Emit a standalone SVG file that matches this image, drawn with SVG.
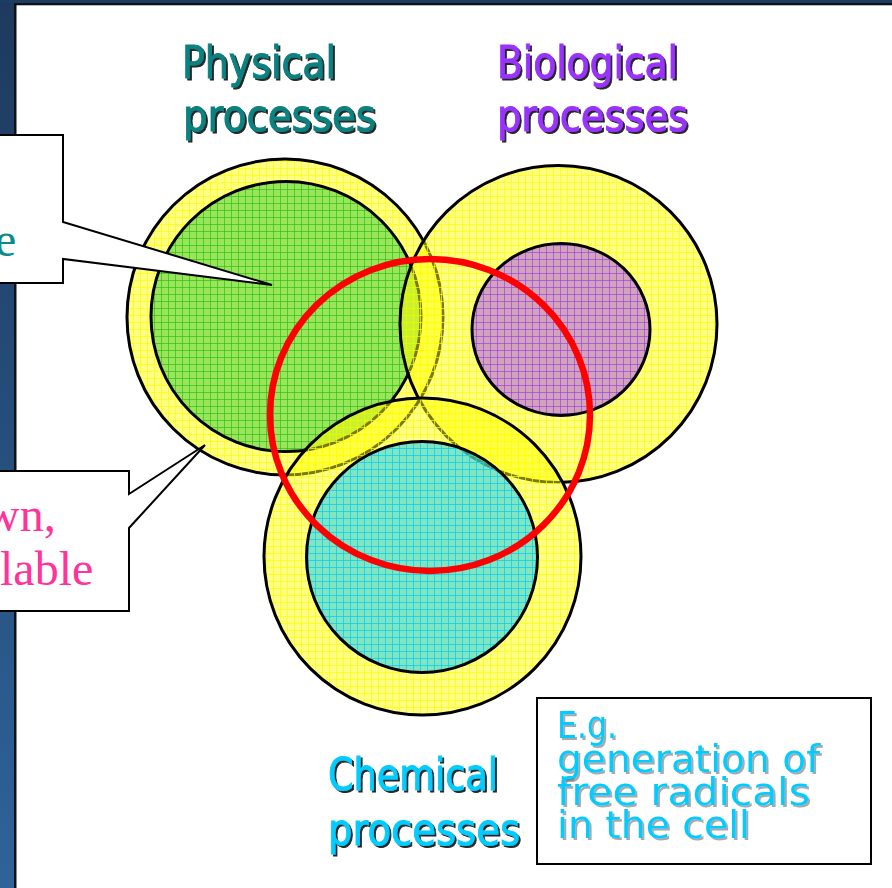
<svg xmlns="http://www.w3.org/2000/svg" width="892" height="888" viewBox="0 0 892 888">
<style>
.lbl{font-family:"DejaVu Sans","Liberation Sans",sans-serif;font-size:44px;stroke-width:0.9;}
.box{font-family:"DejaVu Sans","Liberation Sans",sans-serif;font-size:37px;fill:#00CCFF;}
.ser{font-family:"Liberation Serif","Times New Roman",serif;font-size:48px;}
.ring{stroke:#000;stroke-width:3;}
.call{fill:#fff;stroke:#000;stroke-width:2;stroke-linejoin:miter;}
</style>
<defs>
<linearGradient id="band" x1="0" y1="0" x2="0" y2="1">
<stop offset="0" stop-color="#1D3A5E"/>
<stop offset="1" stop-color="#2F6399"/>
</linearGradient>
<pattern id="pY" width="7" height="7" patternUnits="userSpaceOnUse">
<rect width="7" height="7" fill="#FFFF00" fill-opacity="0.48"/>
<path d="M0 0.5H7M0.5 0V7" stroke="#FFFF00" stroke-opacity="0.7" stroke-width="1"/>
</pattern>
<pattern id="pG" width="7" height="7" patternUnits="userSpaceOnUse">
<rect width="7" height="7" fill="#33CC33" fill-opacity="0.5"/>
<path d="M0 0.5H7M0.5 0V7" stroke="#22BB22" stroke-opacity="0.6" stroke-width="1"/>
</pattern>
<pattern id="pP" width="7" height="7" patternUnits="userSpaceOnUse">
<rect width="7" height="7" fill="#9933FF" fill-opacity="0.45"/>
<path d="M0 0.5H7M0.5 0V7" stroke="#9933FF" stroke-opacity="0.6" stroke-width="1"/>
</pattern>
<pattern id="pC" width="7" height="7" patternUnits="userSpaceOnUse">
<rect width="7" height="7" fill="#00CCFF" fill-opacity="0.5"/>
<path d="M0 0.5H7M0.5 0V7" stroke="#00CCFF" stroke-opacity="0.7" stroke-width="1"/>
</pattern>
<filter id="sh" x="-5%" y="-10%" width="115%" height="140%">
<feDropShadow dx="2" dy="2" stdDeviation="0.5" flood-color="#000" flood-opacity="0.85"/>
</filter>
<filter id="sh2" x="-5%" y="-10%" width="115%" height="140%">
<feDropShadow dx="2" dy="2" stdDeviation="0.6" flood-color="#707070" flood-opacity="0.6"/>
</filter>
</defs>

<g id="slide-frame">
<rect x="0" y="0" width="892" height="888" fill="#fff"/>
<rect x="0" y="0" width="15" height="888" fill="url(#band)"/>
<rect x="0" y="0" width="892" height="3" fill="#1E3C62"/>
<rect x="14" y="3" width="2.5" height="885" fill="#111"/>
<rect x="14" y="3" width="878" height="2.3" fill="#111"/>
</g>

<g id="node-physical">
<circle cx="285" cy="317" r="158" fill="url(#pY)" class="ring"/>
<circle cx="286" cy="316.5" r="135" fill="url(#pG)" class="ring"/>
<text class="lbl" fill="#088080" stroke="#088080" filter="url(#sh)" x="182" y="78" textLength="154" lengthAdjust="spacingAndGlyphs">Physical</text>
<text class="lbl" fill="#088080" stroke="#088080" filter="url(#sh)" x="183" y="131" textLength="193" lengthAdjust="spacingAndGlyphs">processes</text>
</g>

<g id="node-biological">
<circle cx="558.5" cy="324" r="158.5" fill="url(#pY)" class="ring"/>
<ellipse cx="561" cy="329.5" rx="89" ry="86" fill="url(#pP)" class="ring"/>
<text class="lbl" fill="#9933FF" stroke="#9933FF" filter="url(#sh)" x="497" y="78" textLength="181" lengthAdjust="spacingAndGlyphs">Biological</text>
<text class="lbl" fill="#9933FF" stroke="#9933FF" filter="url(#sh)" x="497" y="131" textLength="191" lengthAdjust="spacingAndGlyphs">processes</text>
</g>

<g id="node-chemical">
<circle cx="422.5" cy="556.5" r="158.5" fill="url(#pY)" class="ring"/>
<circle cx="422" cy="557" r="115.5" fill="url(#pC)" class="ring"/>
<text class="lbl" fill="#00CCFF" stroke="#00CCFF" filter="url(#sh)" x="328" y="790" textLength="170" lengthAdjust="spacingAndGlyphs">Chemical</text>
<text class="lbl" fill="#00CCFF" stroke="#00CCFF" filter="url(#sh)" x="328" y="845" textLength="192" lengthAdjust="spacingAndGlyphs">processes</text>
</g>

<g id="node-overlap">
<ellipse cx="430" cy="415" rx="160" ry="156" fill="none" stroke="#FF0000" stroke-width="6.5"/>
</g>

<g id="node-callout-top">
<polygon class="call" points="-10,135 63,135 63,222 272,285 63,259 63,283 -10,283"/>
<text class="ser" fill="#0E8A8A" x="-5" y="256">e</text>
</g>

<g id="node-callout-bottom">
<polygon class="call" points="-10,471 129,471 129,494 205,445 129,528 129,611 -10,611"/>
<text class="ser" fill="#FF3399" x="-15" y="531">wn,</text>
<text class="ser" fill="#FF3399" x="0" y="585">lable</text>
</g>

<g id="node-example">
<rect x="537" y="698" width="334" height="166" fill="#fff" stroke="#000" stroke-width="2"/>
<text class="box" filter="url(#sh2)" x="557" y="738" textLength="60" lengthAdjust="spacingAndGlyphs">E.g.</text>
<text class="box" filter="url(#sh2)" x="557" y="772" textLength="263" lengthAdjust="spacingAndGlyphs">generation of</text>
<text class="box" filter="url(#sh2)" x="557" y="805" textLength="253" lengthAdjust="spacingAndGlyphs">free radicals</text>
<text class="box" filter="url(#sh2)" x="557" y="838" textLength="193" lengthAdjust="spacingAndGlyphs">in the cell</text>
</g>

<g id="connectors"></g>
</svg>
